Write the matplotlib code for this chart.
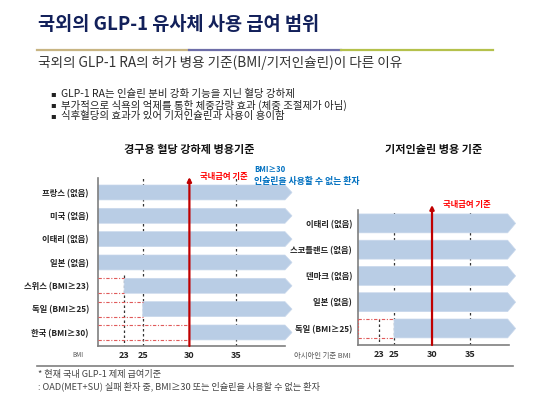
import matplotlib.pyplot as plt
from matplotlib.patches import Polygon
from matplotlib.lines import Line2D

plt.rcParams['font.family'] = ['Noto Sans CJK KR', 'DejaVu Sans']

W, H = 550, 416

# data
left_countries = ["프랑스 (없음)", "미국 (없음)", "이태리 (없음)", "일본 (없음)",
                  "스위스 (BMI≥23)", "독일 (BMI≥25)", "한국 (BMI≥30)"]
left_bmi_min = [0, 0, 0, 0, 23, 25, 30]
right_countries = ["이태리 (없음)", "스코틀랜드 (없음)", "덴마크 (없음)",
                   "일본 (없음)", "독일 (BMI≥25)"]
right_bmi_min = [0, 0, 0, 0, 25]
bmi_ticks = [23, 25, 30, 35]
korea_bmi = 30
bullets = ["GLP-1 RA는 인슐린 분비 강화 기능을 지닌 혈당 강하제",
           "부가적으로 식욕의 억제를 통한 체중감량 효과 (체중 조절제가 아님)",
           "식후혈당의 효과가 있어 기저인슐린과 사용이 용이함"]

BAR = "#b9cde5"
RED = "#c00000"


def fx(px):
    return px / W


def fy(py):
    return 1 - py / H


def rect(x0, y0, x1, y1):
    return [fx(x0), fy(y1), (x1 - x0) / W, (y1 - y0) / H]


fig = plt.figure(figsize=(W / 100, H / 100), dpi=100)

# header
fig.text(fx(38), fy(25), "국외의 GLP-1 유사체 사용 급여 범위", fontsize=13.4,
         fontweight="bold", color="#12205a", va="center")
for x0, x1, c in [(37, 189, "#c8b583"), (189, 341, "#6e6ea8"), (341, 493, "#b5c14c")]:
    fig.add_artist(Line2D([fx(x0), fx(x1)], [fy(50), fy(50)], color=c, lw=1.6))
fig.text(fx(38), fy(63), "국외의 GLP-1 RA의 허가 병용 기준(BMI/기저인슐린)이 다른 이유",
         fontsize=9.8, color="#333333", va="center")
for i, b in enumerate(bullets):
    y = 94 + i * 11
    fig.text(fx(50), fy(y), "▪", fontsize=6, color="#222222", va="center",
             family=["DejaVu Sans"])
    fig.text(fx(61), fy(y), b, fontsize=7.5, color="#222222", va="center")

fig.text(fx(189), fy(149), "경구용 혈당 강하제 병용기준", fontsize=8, fontweight="bold",
         color="#111111", ha="center", va="center")
fig.text(fx(434), fy(149), "기저인슐린 병용 기준", fontsize=8, fontweight="bold",
         color="#111111", ha="center", va="center")


def panel(r, xlim, ylim, countries, mins, half, head_px, tip, pad, tip_y, lab23):
    ax = fig.add_axes(r)
    ax.set_xlim(*xlim)
    ax.set_ylim(*ylim)
    ax.patch.set_alpha(0)
    for s in ["top", "right"]:
        ax.spines[s].set_visible(False)
    for s in ["left", "bottom"]:
        ax.spines[s].set_color("#7f7f7f")
        ax.spines[s].set_linewidth(1.2)
    px_per = (r[2] * W) / (xlim[1] - xlim[0])
    hl = head_px / px_per
    x0 = xlim[0]
    for v in [25, 35]:
        ax.axvline(v, ls=(0, (2, 2)), color="#333333", lw=0.9, zorder=1)
    ax.vlines(23, lab23, ylim[0], ls=(0, (2, 2)), color="#333333", lw=0.9, zorder=1)
    for i, m in enumerate(mins):
        s = m if m > 0 else x0
        pts = [(s, i - half), (tip - hl, i - half), (tip, i), (tip - hl, i + half), (s, i + half)]
        ax.add_patch(Polygon(pts, closed=True, facecolor=BAR, edgecolor="#c9d8ec",
                             lw=0.5, zorder=2, clip_on=False))
        if m > 0:
            ax.hlines([i - half, i + half], x0, m, color="#e05a5a", lw=0.8,
                      ls=(0, (3, 1.5, 1, 1.5)), zorder=3)
    ax.annotate("", xy=(korea_bmi, tip_y), xytext=(korea_bmi, ylim[0]),
                arrowprops=dict(arrowstyle="-|>", color=RED, lw=1.6, mutation_scale=6,
                                shrinkA=0, shrinkB=0),
                annotation_clip=False, zorder=5)
    ax.set_yticks(range(len(countries)), countries)
    ax.set_xticks(bmi_ticks, [str(t) for t in bmi_ticks])
    ax.tick_params(axis="y", length=0, pad=pad, labelsize=6, labelcolor="#222222")
    ax.tick_params(axis="x", length=0, pad=3.5, labelsize=6.5, labelcolor="#222222")
    for t in ax.get_yticklabels() + ax.get_xticklabels():
        t.set_fontweight("bold")
    return ax


# left panel
axl = panel(rect(98, 178, 285, 346), (20.2, 40.25), (6.58, -0.62), left_countries,
            left_bmi_min, 0.32, 7, 41.0, 6.5, -0.66, 3.55)
# right panel
axr = panel(rect(358, 210, 509, 345), (20.26, 40.13), (4.63, -0.51), right_countries,
            right_bmi_min, 0.36, 8, 41.0, 4.3, -0.70, 3.64)
axr.vlines(20.3, 3.64, 4.3, color="#e05a5a", lw=0.8, ls=(0, (1.5, 1.5)), zorder=3)

fig.text(fx(200), fy(176), "국내급여 기준", fontsize=6, fontweight="bold", color="#ff0000",
         va="center")
fig.text(fx(254), fy(170), "BMI≥30", fontsize=5.5, fontweight="bold", color="#0070c0",
         va="center")
fig.text(fx(254), fy(181), "인슐린을 사용할 수 없는 환자", fontsize=6.4, fontweight="bold",
         color="#0070c0", va="center")
fig.text(fx(443), fy(204), "국내급여 기준", fontsize=6, fontweight="bold", color="#ff0000",
         va="center")

fig.text(fx(78), fy(355), "BMI", fontsize=4.5, color="#555555", ha="center", va="center")
fig.text(fx(351), fy(356), "아시아인 기준 BMI", fontsize=5.3, color="#555555", ha="right",
         va="center")

# footer
fig.add_artist(Line2D([fx(37), fx(513)], [fy(366), fy(366)], color="#7f7f7f", lw=1.2))
fig.text(fx(38), fy(374), "* 현재 국내 GLP-1 제제 급여기준", fontsize=6.6, color="#444444",
         va="center")
fig.text(fx(38), fy(386), ": OAD(MET+SU) 실패 환자 중, BMI≥30 또는 인슐린을 사용할 수 없는 환자",
         fontsize=6.6, color="#444444", va="center")

fig.savefig("out.png", dpi=100)
